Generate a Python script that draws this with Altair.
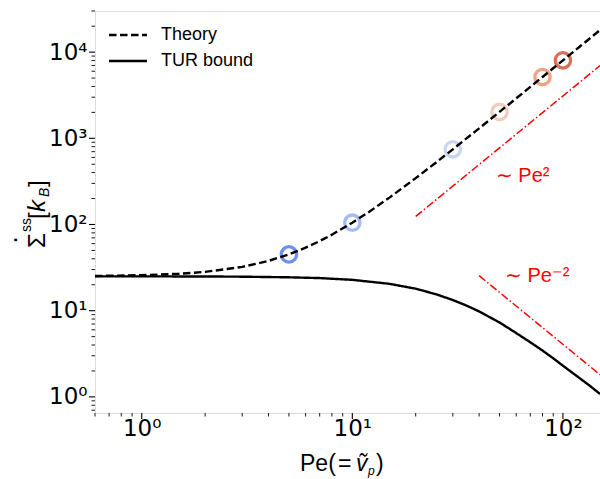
import altair as alt
import pandas as pd

# ---------------- data ----------------
pe_theory = [0.6, 1, 1.5, 2, 3, 4, 5, 6, 7, 8, 10, 12, 15, 20, 25, 30, 40, 50, 60, 70, 80, 100, 120, 150]
sigma_theory = [25.3, 25.8, 26.8, 28.2, 32.2, 37.8, 45, 53.8, 64.2, 76.2, 105, 140, 205, 345, 525, 745,
                1305, 2025, 2905, 3945, 5145, 8025, 11545, 18025]

pe_tur = [0.6, 1, 2, 3, 5, 7, 10, 15, 20, 25, 30, 35, 40, 50, 60, 70, 80, 90, 100, 120, 135, 150]
sigma_tur = [25, 25, 24.95, 24.8, 24.4, 23.9, 22.8, 20.5, 18.0, 15.5, 13.3, 11.4, 9.8, 7.3, 5.5, 4.3,
             3.45, 2.8, 2.3, 1.65, 1.33, 1.08]

pe_sim = [5, 10, 30, 50, 80, 100]
sigma_sim = [45, 105, 745, 2025, 5145, 8025]
sim_colors = ["#6e8ff0", "#a3bcf2", "#c9d6ee", "#efcdbc", "#f0a384", "#d8705a"]

pe_slope_p2 = [20, 150]
sigma_slope_p2 = [124, 6975]
pe_slope_m2 = [40, 150]
sigma_slope_m2 = [25.5, 1.81]

ann_pe = [48, 53]
ann_sigma = [370, 25.5]
ann_text = ["∼ Pe²", "∼ Pe⁻²"]

series_names = ["Theory", "TUR bound"]

x_major = [1, 10, 100]
y_major = [1, 10, 100, 1000, 10000]
x_minor = [0.6, 0.7, 0.8, 0.9] + [round(m * 10 ** e, 6) for e in (0, 1) for m in range(2, 10)]
y_minor = [0.7, 0.8, 0.9] + [round(m * 10 ** e, 6) for e in (0, 1, 2, 3) for m in range(2, 10)] + [20000, 30000]

# ---------------- tables ----------------
df_lines = pd.DataFrame({
    "Pe": pe_theory + pe_tur,
    "value": sigma_theory + sigma_tur,
    "series": [series_names[0]] * len(pe_theory) + [series_names[1]] * len(pe_tur),
})
df_sim = pd.DataFrame({"Pe": pe_sim, "value": sigma_sim, "color": sim_colors})
df_slopes = pd.DataFrame({
    "Pe": pe_slope_p2 + pe_slope_m2,
    "value": sigma_slope_p2 + sigma_slope_m2,
    "grp": ["p2"] * 2 + ["m2"] * 2,
})
df_ann = pd.DataFrame({"Pe": ann_pe, "value": ann_sigma, "label": ann_text})
df_xmaj = pd.DataFrame({"Pe": x_major})
df_xmin = pd.DataFrame({"Pe": x_minor})
df_ymaj = pd.DataFrame({"value": y_major})
df_ymin = pd.DataFrame({"value": y_minor})
one = pd.DataFrame({"a": [0]})

PLOT_W, PLOT_H = 505, 402
MAJ, MIN = 6, 3.5

label_expr = "'10' + ['⁰','¹','²','³','⁴'][round(log(datum.value)/LN10)]"

xs = alt.Scale(type="log", domain=[0.6, 150], nice=False)
ys = alt.Scale(type="log", domain=[0.65, 30000], nice=False)

axis_base = dict(title=None, grid=False, ticks=False, tickSize=0, domain=False,
                 labelExpr=label_expr, labelOverlap=False, labelBound=False,
                 labelFont="DejaVu Sans", labelFontSize=23, labelColor="black")

X = alt.X("Pe:Q", scale=xs, axis=alt.Axis(orient="bottom", values=x_major, labelPadding=4, **axis_base))
Y = alt.Y("value:Q", scale=ys, axis=alt.Axis(orient="left", values=y_major, labelPadding=8, **axis_base))

# tick marks drawn from the tick arrays through the scales
xt_major = alt.Chart(df_xmaj).mark_rule(color="black", strokeWidth=1.1).encode(
    x=X, y=alt.value(PLOT_H), y2=alt.value(PLOT_H + MAJ))
xt_minor = alt.Chart(df_xmin).mark_rule(color="black", strokeWidth=0.9).encode(
    x=X, y=alt.value(PLOT_H), y2=alt.value(PLOT_H + MIN))
yt_major = alt.Chart(df_ymaj).mark_rule(color="black", strokeWidth=1.1).encode(
    y=Y, x=alt.value(-MAJ), x2=alt.value(0))
yt_minor = alt.Chart(df_ymin).mark_rule(color="black", strokeWidth=0.9).encode(
    y=Y, x=alt.value(-MIN), x2=alt.value(0))

circles = alt.Chart(df_sim).mark_point(shape="circle", filled=False, size=235, strokeWidth=3.3,
                                       opacity=1).encode(
    x=X, y=Y, stroke=alt.Stroke("color:N", scale=None, legend=None))

lines = alt.Chart(df_lines).mark_line(color="black", strokeWidth=2.4, clip=True).encode(
    x=X, y=Y,
    strokeDash=alt.StrokeDash(
        "series:N",
        scale=alt.Scale(domain=series_names, range=[[7.5, 3.5], [1, 0]]),
        legend=alt.Legend(title=None, orient="none", legendX=24, legendY=15,
                          symbolType="M-3,0H3", symbolSize=160, symbolStrokeWidth=2.4,
                          symbolStrokeColor="black", labelFont="Liberation Sans",
                          labelFontSize=18, labelColor="black", labelOffset=24,
                          rowPadding=8, padding=0),
    ),
)

slopes = alt.Chart(df_slopes).mark_line(color="#ff0000", strokeWidth=1.5,
                                        strokeDash=[8, 2.5, 1.5, 2.5], clip=True).encode(
    x=X, y=Y, detail="grp:N")

ann = alt.Chart(df_ann).mark_text(color="#ff0000", font="Liberation Sans", fontSize=20,
                                  align="left", baseline="middle").encode(
    x=X, y=Y, text="label:N")


def piece(txt, x, y, size, angle=0, style="normal", baseline="alphabetic", align="left"):
    return alt.Chart(one).mark_text(
        text=txt, font="Liberation Sans", fontSize=size, fontStyle=style, angle=angle,
        align=align, baseline=baseline, color="black",
    ).encode(x=alt.value(x), y=alt.value(y))


# y-axis title: Σ̇^ss [k_B]  (rotated, reads bottom to top)
ytitle = [
    piece("·", -80, 229, 26, angle=270, align="center", baseline="middle"),
    piece("Σ", -50, 237, 24, angle=270),
    piece("ss", -64, 221, 14, angle=270),
    piece("[", -50, 208, 24, angle=270),
    piece("k", -50, 201, 24, angle=270, style="italic"),
    piece("B", -46, 186, 14, angle=270, style="italic"),
    piece("]", -50, 176, 24, angle=270),
]
# x-axis title: Pe(= ṽ_p)
xtitle = [
    piece("Pe(", 205, 460, 23),
    piece("=", 243, 460, 23),
    piece("ṽ", 261, 460, 23, style="italic"),
    piece("p", 273, 464, 12, style="italic"),
    piece(")", 281, 460, 23),
]

chart = alt.layer(circles, lines, slopes, ann, xt_minor, xt_major, yt_minor, yt_major,
                  *ytitle, *xtitle).properties(
    width=PLOT_W, height=PLOT_H,
    autosize=alt.AutoSizeParams(type="none"),
    padding={"left": 95, "top": 11, "right": 0, "bottom": 66},
).configure_view(stroke="black", strokeWidth=1.3).configure(background="white")

chart.save("out.html", embed_options={"renderer": "svg", "actions": False})
